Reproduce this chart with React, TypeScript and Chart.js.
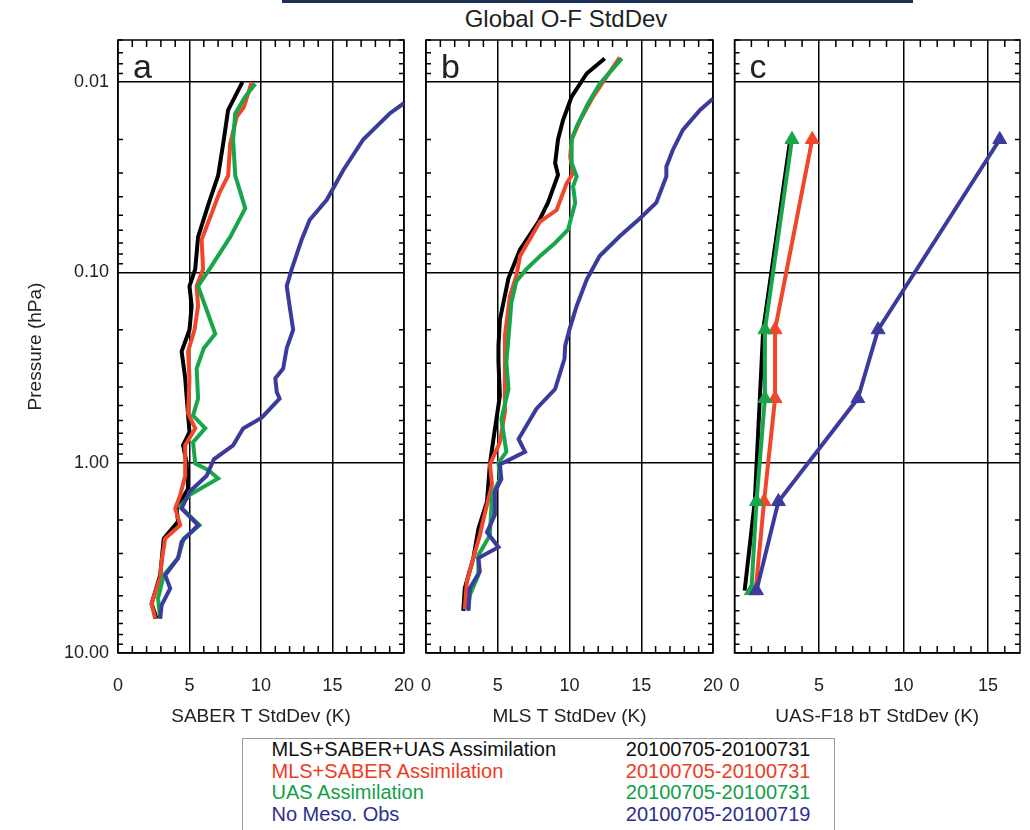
import React, { useEffect, useRef } from "react";
import { Chart, registerables } from "chart.js";
Chart.register(...registerables);

const FONT = '"Liberation Sans", Arial, Helvetica, sans-serif';

// ---------- colours / series names ----------
const seriesNames = ["MLS+SABER+UAS Assimilation", "MLS+SABER Assimilation", "UAS Assimilation", "No Meso. Obs"];
const seriesDates = ["20100705-20100731", "20100705-20100731", "20100705-20100731", "20100705-20100719"];
const lineColors = ["#000000", "#f0462a", "#17a64a", "#3b3b9e"];
const legendColors = ["#111111", "#ee3b24", "#12a04a", "#2e2e8f"];
const markerRadiusC = [0, 8, 8, 8];

// ---------- axes ----------
const yMin = 0.006;
const yMax = 10;
const yMajorTicks = [0.01, 0.1, 1, 10];
const yTickLabels = ["0.01", "0.10", "1.00", "10.00"];
const yMinorTicks = [0.006, 0.007, 0.008, 0.009, 0.02, 0.03, 0.04, 0.05, 0.06, 0.07, 0.08, 0.09,
  0.2, 0.3, 0.4, 0.5, 0.6, 0.7, 0.8, 0.9, 2, 3, 4, 5, 6, 7, 8, 9];
const xMajorTicksAB = [0, 5, 10, 15, 20];
const xMinorTicksAB = [1, 2, 3, 4, 6, 7, 8, 9, 11, 12, 13, 14, 16, 17, 18, 19];
const xMajorTicksC = [0, 5, 10, 15];
const xMinorTicksC = [1, 2, 3, 4, 6, 7, 8, 9, 11, 12, 13, 14, 16];
const xMaxAB = 20;
const xMaxC = 16.9;
const xTitles = ["SABER T StdDev (K)", "MLS T StdDev (K)", "UAS-F18 bT StdDev (K)"];
const yTitle = "Pressure (hPa)";
const panelLetters = ["a", "b", "c"];
const figureTitle = "Global O-F StdDev";

// ---------- panel a: SABER ----------
const aBlackP = [0.01, 0.014, 0.02, 0.031, 0.042, 0.065, 0.096, 0.118, 0.15, 0.2, 0.26, 0.36, 0.56, 0.69, 0.81, 1.0, 1.37, 1.74, 2.04, 2.5, 3.9, 5.5, 6.6];
const aBlackX = [8.7, 7.7, 7.4, 7.0, 6.4, 5.6, 5.4, 5.0, 5.15, 5.0, 4.45, 4.7, 4.9, 5.0, 4.55, 4.8, 4.9, 4.1, 4.2, 3.2, 2.95, 2.35, 2.7];
const aRedP = [0.01, 0.0135, 0.0152, 0.021, 0.031, 0.038, 0.06, 0.067, 0.096, 0.118, 0.15, 0.2, 0.26, 0.36, 0.55, 0.66, 0.81, 1.17, 1.48, 1.74, 2.13, 2.5, 3.3, 4.0, 5.5, 6.6];
const aRedX = [9.35, 8.8, 8.3, 7.85, 7.7, 7.1, 6.1, 5.85, 5.95, 5.5, 5.6, 5.35, 4.9, 5.0, 4.9, 5.4, 4.7, 4.7, 4.35, 4.0, 4.35, 3.3, 3.05, 2.95, 2.35, 2.6];
const aGreenP = [0.0102, 0.0119, 0.0146, 0.02, 0.031, 0.046, 0.065, 0.096, 0.118, 0.15, 0.21, 0.25, 0.32, 0.46, 0.565, 0.66, 0.78, 1.01, 1.09, 1.21, 1.48, 1.7, 2.13, 2.5, 3.17, 3.9, 5.15, 6.6];
const aGreenX = [9.6, 8.9, 8.2, 8.05, 8.2, 8.9, 7.85, 6.4, 5.6, 6.1, 6.8, 6.0, 5.5, 5.6, 5.25, 6.1, 5.25, 5.4, 6.3, 7.0, 5.0, 4.35, 5.7, 4.6, 4.2, 3.2, 2.8, 2.95];
const aBlueP = [0.0129, 0.0146, 0.02, 0.029, 0.0415, 0.053, 0.067, 0.096, 0.118, 0.15, 0.2, 0.25, 0.32, 0.36, 0.425, 0.46, 0.58, 0.66, 0.81, 0.96, 1.17, 1.42, 1.74, 2.13, 2.6, 3.17, 3.9, 4.57, 5.6, 6.6];
const aBlueX = [20.0, 19.0, 17.15, 15.75, 14.6, 13.4, 12.85, 12.15, 11.8, 12.0, 12.25, 11.8, 11.55, 11.0, 11.1, 11.3, 10.05, 8.75, 8.05, 6.7, 6.2, 5.0, 4.45, 5.6, 4.45, 4.2, 3.3, 3.65, 3.05, 2.95];

// ---------- panel b: MLS ----------
const bBlackP = [0.0075, 0.009, 0.0119, 0.0158, 0.02, 0.0266, 0.0307, 0.043, 0.054, 0.076, 0.107, 0.177, 0.243, 0.296, 0.444, 0.75, 1.02, 1.6, 2.23, 3.17, 4.57, 6.0];
const bBlackX = [12.45, 11.2, 10.15, 9.55, 9.2, 9.0, 9.2, 8.5, 7.85, 6.55, 5.75, 5.15, 5.05, 5.05, 5.15, 4.7, 4.45, 4.25, 3.65, 3.3, 2.7, 2.6];
const bRedP = [0.0074, 0.0119, 0.0158, 0.02, 0.0246, 0.03, 0.034, 0.047, 0.054, 0.082, 0.104, 0.133, 0.215, 0.322, 0.54, 0.78, 1.02, 1.3, 2.13, 2.41, 3.17, 4.2, 5.9];
const bRedX = [13.5, 11.65, 10.75, 10.15, 10.05, 10.25, 9.8, 9.1, 7.95, 6.55, 6.3, 5.85, 5.5, 5.5, 5.5, 5.15, 4.45, 4.6, 3.9, 3.75, 3.3, 2.85, 2.7];
const bGreenP = [0.0075, 0.0102, 0.0129, 0.0171, 0.02, 0.0266, 0.0313, 0.0353, 0.043, 0.0595, 0.07, 0.082, 0.096, 0.111, 0.144, 0.198, 0.296, 0.41, 0.59, 0.876, 1.0, 1.22, 1.48, 2.41, 3.06, 3.89, 4.97, 5.9];
const bGreenX = [13.65, 12.1, 11.3, 10.5, 10.15, 10.15, 10.5, 10.25, 10.4, 9.9, 9.0, 7.95, 7.0, 6.3, 5.95, 5.8, 5.6, 5.75, 5.25, 5.6, 5.05, 5.15, 4.6, 4.45, 3.65, 3.65, 3.05, 2.95];
const bBlueP = [0.0122, 0.014, 0.0178, 0.0227, 0.0278, 0.0313, 0.043, 0.052, 0.0645, 0.082, 0.109, 0.15, 0.199, 0.243, 0.284, 0.41, 0.52, 0.75, 0.876, 1.02, 1.22, 1.42, 1.88, 2.32, 2.78, 3.17, 3.73, 4.57, 6.0];
const bBlueX = [20.0, 19.1, 17.9, 17.2, 16.75, 16.75, 16.05, 14.9, 13.5, 12.1, 11.2, 10.5, 10.0, 9.7, 9.65, 9.0, 7.7, 6.45, 6.9, 5.15, 5.25, 4.8, 4.8, 4.25, 5.05, 3.65, 3.75, 3.05, 2.95];

// ---------- panel c: UAS-F18 ----------
const cLevelsP = [0.02, 0.2, 0.46, 1.6, 4.7];
const cBlackX = [3.3, 1.7, 1.5, 1.2, 0.6];
const cRedX = [4.6, 2.4, 2.4, 1.75, 1.25];
const cGreenX = [3.4, 1.8, 1.8, 1.3, 1.0];
const cBlueX = [15.7, 8.5, 7.3, 2.6, 1.3];

function pts(p: number[], x: number[]) {
  return p.map((pv, i) => ({ x: x[i], y: pv }));
}

const framePlugin = {
  id: "frame",
  beforeDatasetsDraw(chart: any, _args: any, opts: any) {
    const { ctx, chartArea } = chart;
    const { left, right, top, bottom } = chartArea;
    const xs = chart.scales.x;
    const ys = chart.scales.y;
    ctx.save();
    ctx.strokeStyle = "#000";
    ctx.lineWidth = 1.5;
    ctx.beginPath();
    for (const v of opts.xMinor as number[]) {
      const px = xs.getPixelForValue(v);
      ctx.moveTo(px, bottom);
      ctx.lineTo(px, bottom - 7);
      ctx.moveTo(px, top);
      ctx.lineTo(px, top + 7);
    }
    for (const v of yMinorTicks) {
      const py = ys.getPixelForValue(v);
      if (py < top - 0.5 || py > bottom + 0.5) continue;
      ctx.moveTo(left, py);
      ctx.lineTo(left + 5, py);
      ctx.moveTo(right, py);
      ctx.lineTo(right - 5, py);
    }
    ctx.stroke();
    ctx.strokeRect(left, top, right - left, bottom - top);
    ctx.fillStyle = "#222";
    ctx.font = `34px ${FONT}`;
    ctx.textBaseline = "alphabetic";
    ctx.textAlign = "left";
    ctx.fillText(opts.letter, left + 15, top + 38);
    ctx.restore();
  },
};

function makeConfig(panel: number): any {
  const isC = panel === 2;
  const showY = panel === 0;
  const pad = [
    { left: 0, right: 16, top: 40, bottom: 0 },
    { left: 16, right: 17, top: 40, bottom: 0 },
    { left: 14.5, right: 10, top: 40, bottom: 0 },
  ][panel];
  const xMajor = isC ? xMajorTicksC : xMajorTicksAB;
  const xMinor = isC ? xMinorTicksC : xMinorTicksAB;
  const xMax = isC ? xMaxC : xMaxAB;

  let sets: { p: number[]; x: number[] }[];
  if (panel === 0) {
    sets = [{ p: aBlackP, x: aBlackX }, { p: aRedP, x: aRedX }, { p: aGreenP, x: aGreenX }, { p: aBlueP, x: aBlueX }];
  } else if (panel === 1) {
    sets = [{ p: bBlackP, x: bBlackX }, { p: bRedP, x: bRedX }, { p: bGreenP, x: bGreenX }, { p: bBlueP, x: bBlueX }];
  } else {
    sets = [{ p: cLevelsP, x: cBlackX }, { p: cLevelsP, x: cRedX }, { p: cLevelsP, x: cGreenX }, { p: cLevelsP, x: cBlueX }];
  }
  const datasets = sets
    .map((s, i) => ({
      label: seriesNames[i],
      data: pts(s.p, s.x),
      borderColor: lineColors[i],
      backgroundColor: lineColors[i],
      borderWidth: 4,
      pointRadius: isC ? markerRadiusC[i] : 0,
      pointStyle: "triangle",
      pointBorderWidth: 1,
      tension: 0,
      fill: false,
    }))
    .reverse(); // dataset 0 drawn on top -> blue on top, black underneath

  return {
    type: "line",
    data: { datasets },
    plugins: [framePlugin],
    options: {
      animation: false,
      responsive: false,
      maintainAspectRatio: false,
      layout: { padding: pad },
      events: [],
      plugins: {
        legend: { display: false },
        tooltip: { enabled: false },
        frame: { xMinor, letter: panelLetters[panel] },
      },
      scales: {
        x: {
          type: "linear",
          min: 0,
          max: xMax,
          afterBuildTicks: (s: any) => {
            s.ticks = xMajor.map((v) => ({ value: v }));
          },
          afterFit: (s: any) => {
            s.height = 82;
            s.paddingLeft = 0;
            s.paddingRight = 0;
          },
          ticks: {
            autoSkip: false,
            maxRotation: 0,
            padding: 22,
            color: "#222",
            font: { family: FONT, size: 18 },
            callback: (v: any) => String(v),
          },
          grid: { color: "#000", lineWidth: 1.5, drawTicks: false },
          border: { display: false },
          title: {
            display: true,
            text: xTitles[panel],
            color: "#222",
            font: { family: FONT, size: 19 },
            padding: { top: 0, bottom: 7 },
          },
        },
        y: {
          type: "logarithmic",
          min: yMin,
          max: yMax,
          reverse: true,
          afterBuildTicks: (s: any) => {
            s.ticks = yMajorTicks.map((v) => ({ value: v }));
          },
          afterFit: (s: any) => {
            s.width = showY ? 118 : 0;
            s.paddingTop = 0;
            s.paddingBottom = 0;
          },
          ticks: {
            display: showY,
            autoSkip: false,
            padding: 9,
            color: "#222",
            font: { family: FONT, size: 18 },
            callback: (v: any) => {
              const idx = yMajorTicks.findIndex((m) => Math.abs(m - v) / m < 1e-6);
              return idx >= 0 ? yTickLabels[idx] : "";
            },
          },
          grid: { color: "#000", lineWidth: 1.5, drawTicks: false },
          border: { display: false },
          title: {
            display: showY,
            text: yTitle,
            color: "#222",
            font: { family: FONT, size: 19 },
            padding: { top: 24, bottom: 0 },
          },
        },
      },
    },
  };
}

function Panel({ panel, left, width }: { panel: number; left: number; width: number }) {
  const ref = useRef<HTMLCanvasElement | null>(null);
  useEffect(() => {
    if (!ref.current) return;
    const chart = new Chart(ref.current, makeConfig(panel));
    return () => chart.destroy();
  }, [panel]);
  return (
    <canvas
      ref={ref}
      width={width}
      height={735}
      style={{ position: "absolute", left, top: 0, width, height: 735 }}
    />
  );
}

export default function App() {
  return (
    <div style={{ position: "absolute", left: 0, top: 0, width: 1030, height: 830, background: "#fff", overflow: "hidden", fontFamily: FONT }}>
      <div style={{ position: "absolute", left: 282, top: 0, width: 631, height: 3, background: "#1d3057" }} />
      <div style={{ position: "absolute", left: 366, top: 4, width: 400, textAlign: "center", fontSize: 24, lineHeight: "29px", color: "#222" }}>
        {figureTitle}
      </div>
      <Panel panel={0} left={0} width={420} />
      <Panel panel={1} left={410} width={320} />
      <Panel panel={2} left={720} width={310} />
      <div
        style={{
          position: "absolute",
          left: 242,
          top: 738,
          width: 593,
          height: 92,
          boxSizing: "border-box",
          border: "1.5px solid #999",
          borderBottom: "none",
          fontSize: 20,
          lineHeight: "21.5px",
        }}
      >
        {seriesNames.map((n, i) => (
          <div key={i} style={{ position: "relative", height: 21.5, color: legendColors[i] }}>
            <span style={{ position: "absolute", left: 28.5 }}>{n}</span>
            <span style={{ position: "absolute", right: 23.5 }}>{seriesDates[i]}</span>
          </div>
        ))}
      </div>
    </div>
  );
}
